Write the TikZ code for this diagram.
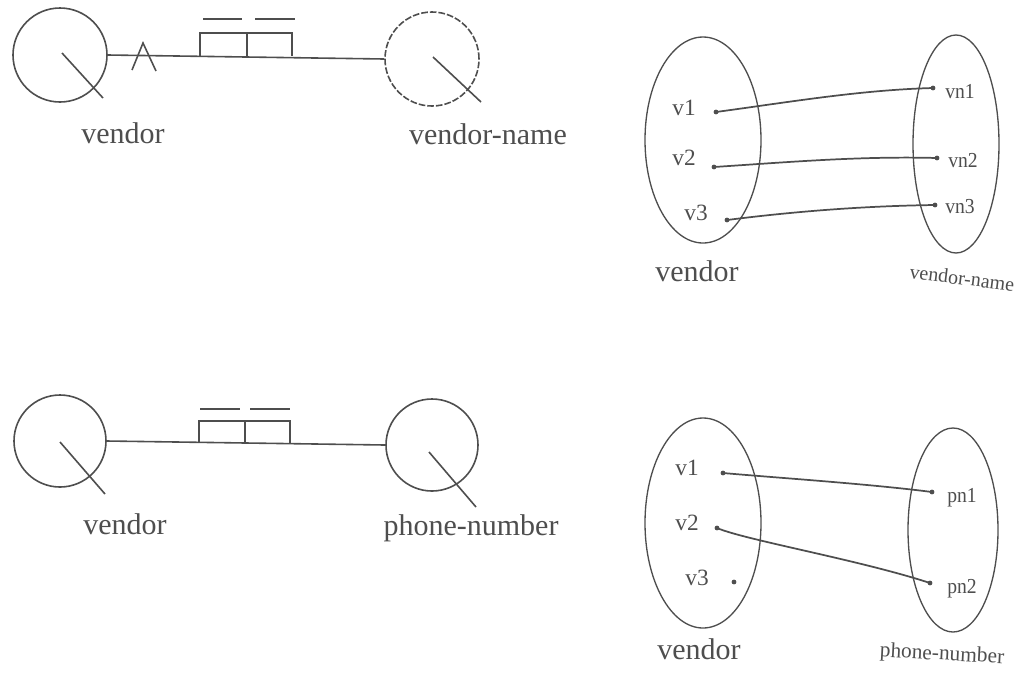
\documentclass[tikz,border=0pt]{standalone}
\usepackage{fontspec}
\setmainfont{Liberation Serif}
\usetikzlibrary{calc,shapes.geometric}
\definecolor{ink}{RGB}{78,78,78}
\tikzset{
  entity/.style={circle, draw=ink, line width=1.2pt, inner sep=0pt},
  setshape/.style={ellipse, draw=ink, line width=1pt, inner sep=0pt},
  pt/.style={circle, fill=ink, draw=none, inner sep=0pt, minimum size=3.6pt},
  biglbl/.style={text=ink, anchor=base, font=\fontsize{22.5}{27}\selectfont},
  elbl/.style={text=ink, anchor=base, font=\fontsize{17.5}{21}\selectfont},
  vnlbl/.style={text=ink, anchor=base, font=\fontsize{16}{19}\selectfont, xscale=0.92},
  maplink/.style={draw=ink, line width=1.3pt},
}
\begin{document}
\begin{tikzpicture}[x=0.75pt, y=-0.75pt, color=ink, line width=1.2pt]
\useasboundingbox (0,0) rectangle (1027,683);

% ---------- vendor -- vendor-name (entity diagram) ----------
\node[entity, minimum size=70.5pt] (e1) at (60,55) {};
\node[entity, minimum size=70.5pt, dashed, dash pattern=on 5pt off 1.5pt] (e2) at (432,59) {};
\draw ($(e1.center)+(2,-2)$) -- ($(e1.center)+(43,43)$);
\draw ($(e2.center)+(1,-2)$) -- ($(e2.center)+(49,43)$);
\draw (e1.east) -- (e2.west);
% total-participation wedge
\draw (132,70) -- (143,43) -- (156,71);
% cardinality boxes with bars
\draw (200,56) -- (200,33) -- (292,33) -- (292,56);
\draw (247,33) -- (247,56);
\draw (203,19) -- (242,19);
\draw (255,19) -- (295,19);
\node[biglbl] (l1) at (123,143) {vendor};
\node[biglbl] (l2) at (488,144) {vendor-name};

% ---------- vendor -- phone-number (entity diagram) ----------
\node[entity, minimum size=69pt] (e3) at (60,441) {};
\node[entity, minimum size=69pt] (e4) at (432,445) {};
\draw ($(e3.center)+(0,1)$) -- ($(e3.center)+(45,53)$);
\draw ($(e4.center)+(-3,7)$) -- ($(e4.center)+(44,62)$);
\draw (e3.east) -- (e4.west);
\draw (199,443) -- (199,421) -- (290,421) -- (290,443);
\draw (245,421) -- (245,443);
\draw (200,409) -- (240,409);
\draw (250,409) -- (290,409);
\node[biglbl] (l3) at (125,534) {vendor};
\node[biglbl] (l4) at (471,535) {phone-number};

% ---------- mapping vendor -> vendor-name ----------
\node[setshape, minimum width=87pt, minimum height=154.5pt] (s1) at (703,140) {};
\node[setshape, minimum width=64.5pt, minimum height=163.5pt] (s2) at (956,144) {};
\node[elbl] (tv1) at (684,115) {v1};
\node[elbl] (tv2) at (684,165) {v2};
\node[elbl] (tv3) at (696,220) {v3};
\node[vnlbl] (tn1) at (960,98) {vn1};
\node[vnlbl] (tn2) at (963,167) {vn2};
\node[vnlbl] (tn3) at (960,213) {vn3};
\node[pt] (a1) at (716,112) {};
\node[pt] (a2) at (714,167) {};
\node[pt] (a3) at (727,220) {};
\node[pt] (b1) at (933,88) {};
\node[pt] (b2) at (937,158) {};
\node[pt] (b3) at (935,205) {};
\draw[maplink] (a1.center) .. controls (790,102) and (860,90) .. (b1.center);
\draw[maplink] (a2.center) .. controls (790,162) and (860,156) .. (b2.center);
\draw[maplink] (a3.center) .. controls (790,212) and (860,206) .. (b3.center);
\node[biglbl] (l5) at (697,281) {vendor};
\node[text=ink, font=\fontsize{15}{18}\selectfont, rotate=-7] (l6) at (962,278) {vendor-name};

% ---------- mapping vendor -> phone-number ----------
\node[setshape, minimum width=87pt, minimum height=157.5pt] (s3) at (703,523) {};
\node[setshape, minimum width=67.5pt, minimum height=153pt] (s4) at (953,530) {};
\node[elbl] (tw1) at (687,475) {v1};
\node[elbl] (tw2) at (687,530) {v2};
\node[elbl] (tw3) at (697,585) {v3};
\node[vnlbl] (tp1) at (962,502) {pn1};
\node[vnlbl] (tp2) at (962,593) {pn2};
\node[pt] (c1) at (723,473) {};
\node[pt] (c2) at (717,528) {};
\node[pt] (c3) at (734,582) {};
\node[pt] (d1) at (932,492) {};
\node[pt] (d2) at (930,583) {};
\draw[maplink] (c1.center) .. controls (780,478) and (870,484) .. (d1.center);
\draw[maplink] (c2.center) .. controls (745,540) and (860,560) .. (d2.center);
\node[biglbl] (l7) at (699,659) {vendor};
\node[text=ink, font=\fontsize{16}{19}\selectfont, rotate=-3] (l8) at (942,655) {phone-number};
\end{tikzpicture}
\end{document}
